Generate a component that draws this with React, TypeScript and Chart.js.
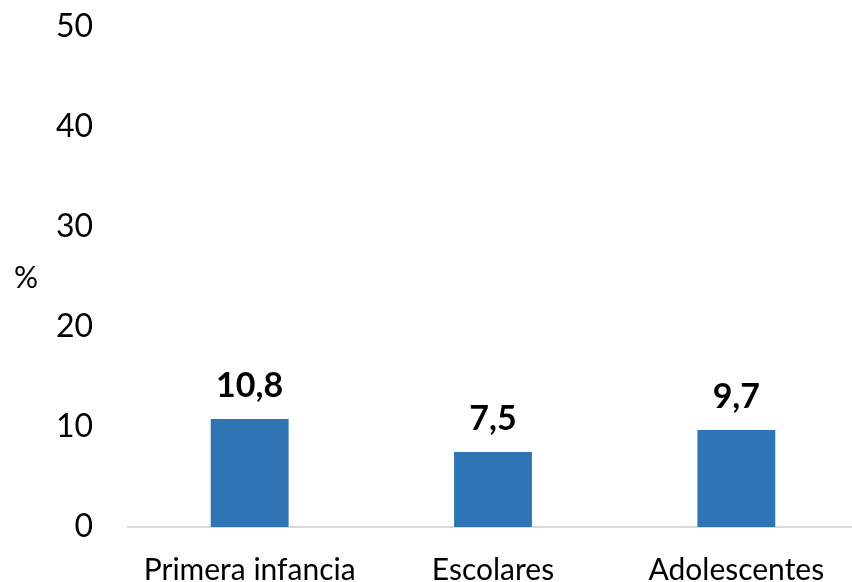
import React, { useEffect, useRef } from "react";
import { Chart, registerables } from "chart.js";

Chart.register(...registerables);

const categories = ["Primera infancia", "Escolares", "Adolescentes"];
const values = [10.8, 7.5, 9.7];
const yTicks = [0, 10, 20, 30, 40, 50];
const yTitle = "%";

const FONT = "Lato, 'Open Sans', sans-serif";

const valueLabels = {
  id: "valueLabels",
  afterDatasetsDraw(chart: any) {
    const ctx = chart.ctx;
    const meta = chart.getDatasetMeta(0);
    ctx.save();
    ctx.font = `bold 34px ${FONT}`;
    ctx.fillStyle = "#000";
    ctx.textAlign = "center";
    ctx.textBaseline = "alphabetic";
    meta.data.forEach((bar: any, i: number) => {
      const txt = values[i].toFixed(1).replace(".", ",");
      ctx.fillText(txt, bar.x, bar.y - 22);
    });
    ctx.restore();
  },
};

const yTitlePlugin = {
  id: "yTitlePlugin",
  afterDraw(chart: any) {
    const ctx = chart.ctx;
    const area = chart.chartArea;
    ctx.save();
    ctx.font = `30px ${FONT}`;
    ctx.fillStyle = "#000";
    ctx.textAlign = "center";
    ctx.textBaseline = "middle";
    ctx.fillText(yTitle, 26, (area.top + area.bottom) / 2 + 1);
    ctx.restore();
  },
};

export default function App() {
  const ref = useRef<HTMLCanvasElement>(null);
  useEffect(() => {
    if (!ref.current) return;
    const chart = new Chart(ref.current, {
      type: "bar",
      data: {
        labels: categories,
        datasets: [
          {
            data: values,
            backgroundColor: "#2E75B6",
            barPercentage: 0.64,
            categoryPercentage: 0.5,
          },
        ],
      },
      options: {
        responsive: false,
        animation: false,
        maintainAspectRatio: false,
        layout: { padding: { top: 27, right: 0, left: 0, bottom: 0 } },
        plugins: {
          legend: { display: false },
          tooltip: { enabled: false },
        },
        scales: {
          x: {
            grid: { display: false, drawTicks: false },
            border: { display: true, color: "#D9D9D9", width: 2 },
            ticks: {
              color: "#000",
              font: { family: FONT, size: 30 },
              padding: 25,
              maxRotation: 0,
              autoSkip: false,
            },
            afterFit: (s: any) => {
              s.height = 55;
            },
          },
          y: {
            min: 0,
            max: 50,
            afterBuildTicks: (s: any) => {
              s.ticks = yTicks.map((v) => ({ value: v }));
            },
            grid: { display: false, drawTicks: false },
            border: { display: false },
            ticks: {
              color: "#000",
              font: { family: FONT, size: 32 },
              padding: 35,
            },
            afterFit: (s: any) => {
              s.width = 128;
              s.paddingTop = 0;
              s.paddingBottom = 0;
            },
          },
        },
      },
      plugins: [valueLabels, yTitlePlugin],
    });
    return () => chart.destroy();
  }, []);
  return (
    <div style={{ position: "fixed", left: 0, top: 0, width: 852, height: 582, background: "#fff", overflow: "hidden" }}>
      <canvas ref={ref} width={858} height={582} />
    </div>
  );
}
